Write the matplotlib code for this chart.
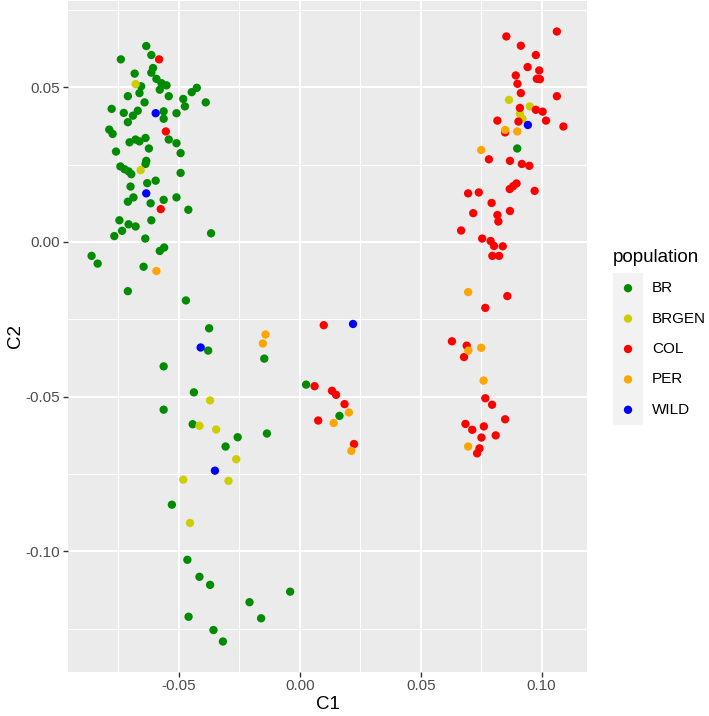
import matplotlib
matplotlib.use("Agg")
import matplotlib.pyplot as plt
import numpy as np

plt.rcParams['font.family'] = ['Liberation Sans', 'DejaVu Sans']

populations = ["BR", "BRGEN", "COL", "PER", "WILD"]
colors = ["#008B00", "#CDCD00", "#FF0000", "#FFA500", "#0000FF"]

br_x = [-0.0635, -0.0740, -0.0614, -0.0683, -0.0607, -0.0614, -0.0593, -0.0572, -0.0551, -0.0656,
        -0.0579, -0.0426, -0.0447, -0.0663, -0.0711, -0.0542, -0.0482, -0.0389, -0.0642, -0.0475,
        -0.0778, -0.0728, -0.0670, -0.0563, -0.0510, -0.0563, -0.0690, -0.0711, -0.0788, -0.0774,
        -0.0542, -0.0704, -0.0679, -0.0638, -0.0663, -0.0510, -0.0624, -0.0760, -0.0493, -0.0635,
        -0.0638, -0.0742, -0.0725, -0.0708, -0.0697, -0.0493, -0.0596, -0.0631, -0.0700, -0.0510,
        -0.0563, -0.0688, -0.0711, -0.0617, -0.0461, -0.0746, -0.0614, -0.0708, -0.0679, -0.0735,
        -0.0767, -0.0639, -0.0367, -0.0561, -0.0579, -0.0861, -0.0836, -0.0646,
        -0.0711, -0.0471, -0.0375, -0.0379, -0.0147, -0.0563, 0.0026, -0.0438, -0.0563, -0.0443,
        -0.0136, -0.0257, -0.0307, -0.0529, -0.0465, -0.0415, -0.0371, -0.0040, -0.0208, -0.0460,
        -0.0160, -0.0357, -0.0318, 0.0164, 0.0899]
br_y = [0.0633, 0.0590, 0.0604, 0.0544, 0.0562, 0.0547, 0.0527, 0.0513, 0.0506, 0.0503,
        0.0492, 0.0498, 0.0484, 0.0481, 0.0471, 0.0471, 0.0462, 0.0451, 0.0451, 0.0438,
        0.0430, 0.0417, 0.0424, 0.0422, 0.0416, 0.0398, 0.0408, 0.0387, 0.0363, 0.0349,
        0.0331, 0.0322, 0.0331, 0.0336, 0.0325, 0.0319, 0.0302, 0.0292, 0.0287, 0.0262,
        0.0252, 0.0244, 0.0235, 0.0228, 0.0219, 0.0223, 0.0198, 0.0190, 0.0179, 0.0144,
        0.0136, 0.0144, 0.0130, 0.0125, 0.0104, 0.0070, 0.0070, 0.0057, 0.0050, 0.0036,
        0.0019, 0.0011, 0.0028, -0.0018, -0.0029, -0.0045, -0.0070, -0.0080,
        -0.0159, -0.0189, -0.0279, -0.0351, -0.0377, -0.0402, -0.0461, -0.0486, -0.0542, -0.0589,
        -0.0619, -0.0631, -0.0661, -0.0849, -0.1027, -0.1082, -0.1108, -0.1130, -0.1164, -0.1211,
        -0.1216, -0.1254, -0.1291, -0.0562, 0.0302]

brgen_x = [-0.0679, -0.0658, -0.0371, -0.0415, -0.0346, -0.0263, -0.0482, -0.0295, -0.0454,
           0.0865, 0.0951, 0.0910, 0.0921]
brgen_y = [0.0510, 0.0232, -0.0512, -0.0594, -0.0606, -0.0702, -0.0768, -0.0772, -0.0908,
           0.0459, 0.0438, 0.0414, 0.0398]

col_x = [-0.0582, -0.0554, -0.0575,
         0.0099, 0.0061, 0.0133, 0.0150, 0.0185, 0.0076, 0.0224,
         0.1063, 0.0854, 0.0914, 0.0976, 0.0942, 0.0990, 0.0893, 0.0980, 0.0993, 0.0900,
         0.0914, 0.1063, 0.0910, 0.0976, 0.1004, 0.0817, 0.0904, 0.1018, 0.1090, 0.0849,
         0.0782, 0.0869, 0.0918, 0.0949, 0.0896, 0.0882, 0.0868, 0.0971, 0.0696, 0.0740,
         0.0793, 0.0717, 0.0869, 0.0817, 0.0821, 0.0667, 0.0754, 0.0789, 0.0803, 0.0839,
         0.0796, 0.0824,
         0.0858, 0.0767, 0.0629, 0.0690, 0.0679, 0.0767, 0.0795, 0.0849, 0.0685, 0.0713,
         0.0761, 0.0751, 0.0810, 0.0743, 0.0733]
col_y = [0.0590, 0.0357, 0.0106,
         -0.0269, -0.0466, -0.0481, -0.0494, -0.0524, -0.0577, -0.0653,
         0.0680, 0.0664, 0.0634, 0.0604, 0.0565, 0.0554, 0.0538, 0.0527, 0.0526, 0.0511,
         0.0481, 0.0471, 0.0433, 0.0427, 0.0421, 0.0392, 0.0389, 0.0392, 0.0373, 0.0354,
         0.0267, 0.0262, 0.0252, 0.0246, 0.0189, 0.0180, 0.0171, 0.0165, 0.0157, 0.0160,
         0.0126, 0.0093, 0.0100, 0.0087, 0.0066, 0.0037, 0.0011, 0.0003, -0.0013, -0.0014,
         -0.0045, -0.0045,
         -0.0175, -0.0213, -0.0321, -0.0335, -0.0372, -0.0505, -0.0526, -0.0573, -0.0588, -0.0607,
         -0.0596, -0.0632, -0.0625, -0.0667, -0.0683]

per_x = [-0.0593, -0.0142, -0.0153, 0.0203, 0.0140, 0.0213, 0.0696, 0.0697, 0.0750, 0.0760,
         0.0696, 0.0849, 0.0899, 0.0750]
per_y = [-0.0094, -0.0299, -0.0328, -0.0551, -0.0585, -0.0675, -0.0162, -0.0351, -0.0342, -0.0448,
         -0.0661, 0.0362, 0.0357, 0.0297]

wild_x = [-0.0596, -0.0635, -0.0410, -0.0351, 0.0220, 0.0943]
wild_y = [0.0416, 0.0157, -0.0341, -0.0739, -0.0265, 0.0378]

xs = [br_x, brgen_x, col_x, per_x, wild_x]
ys = [br_y, brgen_y, col_y, per_y, wild_y]

W, H = 709, 716
P_L, P_R, P_T, P_B = 68, 587, 1, 672
fig = plt.figure(figsize=(W / 100, H / 100), dpi=100)
ax = fig.add_axes([P_L / W, 1 - P_B / H, (P_R - P_L) / W, (P_B - P_T) / H])
ax.set_facecolor("#EBEBEB")

for px, py, c in zip(xs, ys, colors):
    ax.scatter(px, py, s=36, color=c, edgecolors='none', zorder=3)

allx = np.concatenate([np.array(v) for v in xs])
ally = np.concatenate([np.array(v) for v in ys])
rx = allx.max() - allx.min()
ry = ally.max() - ally.min()
ax.set_xlim(allx.min() - 0.05 * rx, allx.max() + 0.05 * rx)
ax.set_ylim(ally.min() - 0.05 * ry, ally.max() + 0.05 * ry)

xt = [-0.05, 0.0, 0.05, 0.10]
yt = [-0.10, -0.05, 0.0, 0.05]
ax.set_xticks(xt)
ax.set_xticklabels(["-0.05", "0.00", "0.05", "0.10"])
ax.set_yticks(yt)
ax.set_yticklabels(["-0.10", "-0.05", "0.00", "0.05"])
ax.set_xticks([-0.075, -0.025, 0.025, 0.075], minor=True)
ax.set_yticks([-0.125, -0.075, -0.025, 0.025, 0.075], minor=True)
ax.grid(which='major', color='white', linewidth=1.5, zorder=1)
ax.grid(which='minor', color='white', linewidth=0.75, zorder=1)
ax.set_axisbelow(True)
for s in ax.spines.values():
    s.set_visible(False)
ax.tick_params(which='major', length=3.5, width=1, color='#333333', labelcolor='#4D4D4D',
               labelsize=11)
ax.tick_params(axis='x', which='major', pad=1.5)
ax.tick_params(axis='y', which='major', pad=2.5)
ax.tick_params(which='minor', length=0)
ax.set_xlabel("C1", fontsize=13.5, color='black', labelpad=2)
ax.set_ylabel("C2", fontsize=13.5, color='black', labelpad=1)

# legend
fig.text(613 / W, 1 - 257 / H, "population", fontsize=13.5, va='center', ha='left')
lax = fig.add_axes([613 / W, 1 - 425 / H, 30 / W, (425 - 273) / H])
lax.set_facecolor("#F2F2F2")
lax.set_xlim(0, 1)
lax.set_ylim(len(populations), 0)
for i, (p, c) in enumerate(zip(populations, colors)):
    lax.scatter([0.5], [i + 0.5], s=36, color=c, edgecolors='none')
    fig.text(652 / W, 1 - (273 + (i + 0.5) * (425 - 273) / 5) / H, p, fontsize=11,
             va='center', ha='left')
lax.set_xticks([])
lax.set_yticks([])
for s in lax.spines.values():
    s.set_visible(False)

fig.savefig("out.png", dpi=100)
